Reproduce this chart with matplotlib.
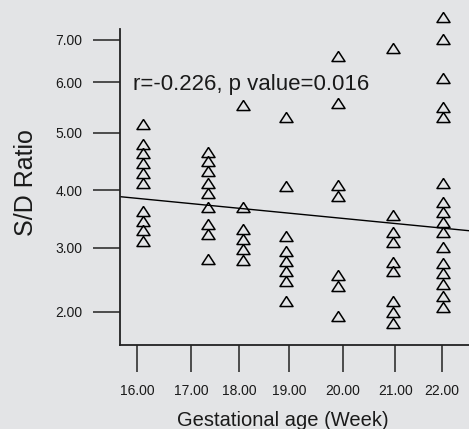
import numpy as np
import matplotlib
matplotlib.use("Agg")
import matplotlib.pyplot as plt

# gestational week of each column of points
weeks = [16.10, 17.35, 18.09, 18.93, 19.91, 20.96, 22.02]

# S/D ratio values, one list per week column
sd_ratio = [
    [5.17, 4.80, 4.64, 4.47, 4.30, 4.12, 3.64, 3.47, 3.30, 3.12],
    [4.67, 4.51, 4.34, 4.13, 3.95, 3.71, 3.41, 3.24, 2.83],
    [5.54, 3.71, 3.32, 3.15, 2.98, 2.80],
    [5.32, 4.08, 3.20, 2.95, 2.79, 2.64, 2.48, 2.16],
    [6.61, 5.59, 4.09, 3.90, 2.57, 2.40, 1.94],
    [6.80, 3.57, 3.28, 3.10, 2.78, 2.63, 2.16, 2.00, 1.82],
    [7.55, 7.02, 6.11, 5.51, 5.31, 4.12, 3.80, 3.62, 3.45, 3.28, 3.02,
     2.76, 2.60, 2.43, 2.25, 2.08],
]

# regression line end points
fit_x = [15.68, 22.57]
fit_y = [3.889, 3.296]

x_ticks = [16, 17, 18, 19, 20, 21, 22]
y_ticks = [2, 3, 4, 5, 6, 7]
stat_text = "r=-0.226, p value=0.016"

# the original axes are not evenly spaced, so map the ticks by hand
x_spacing = [137.3, 191, 239, 289.3, 343, 395.3, 442.3]
y_spacing = [0, 64, 121.4, 179, 229.4, 271.7]


def piecewise(src, dst):
    src = np.asarray(src, float)
    dst = np.asarray(dst, float)
    s0 = (dst[1] - dst[0]) / (src[1] - src[0])
    s1 = (dst[-1] - dst[-2]) / (src[-1] - src[-2])

    def f(v):
        v = np.asarray(v, float)
        out = np.interp(v, src, dst)
        out = np.where(v < src[0], dst[0] + (v - src[0]) * s0, out)
        out = np.where(v > src[-1], dst[-1] + (v - src[-1]) * s1, out)
        return out
    return f


plt.rcParams['font.family'] = ['Liberation Sans', 'DejaVu Sans']

bg = '#e3e4e6'
fig = plt.figure(figsize=(4.69, 4.29), dpi=100, facecolor=bg)
ax = fig.add_axes([120 / 469, 83.7 / 429, 349 / 469, 316.3 / 429])
ax.set_facecolor(bg)

ax.set_xscale('function', functions=(piecewise(x_ticks, x_spacing),
                                     piecewise(x_spacing, x_ticks)))
ax.set_yscale('function', functions=(piecewise(y_ticks, y_spacing),
                                     piecewise(y_spacing, y_ticks)))

# flat open triangle like the original
tri = [(0, 0.385), (-0.5, -0.385), (0.5, -0.385), (0, 0.385)]
for wk, vals in zip(weeks, sd_ratio):
    ax.plot([wk] * len(vals), vals, linestyle='none', marker=tri,
            markersize=9.4, markerfacecolor='none', markeredgecolor='black',
            markeredgewidth=1.1, clip_on=False)

ax.plot(fit_x, fit_y, color='black', linewidth=1.0)

ax.set_xlim(15.68, 22.57)
ax.set_ylim(1.475, 7.26)

ax.set_xticks(x_ticks)
ax.set_xticklabels(["%.2f" % t for t in x_ticks])
ax.set_yticks(y_ticks)
ax.set_yticklabels(["%.2f" % t for t in y_ticks])
ax.minorticks_off()

for s in ['top', 'right']:
    ax.spines[s].set_visible(False)
for s in ['left', 'bottom']:
    ax.spines[s].set_linewidth(1.3)
    ax.spines[s].set_color('#222222')

ax.tick_params(axis='both', direction='out', length=19.5, width=1.1,
               colors='#222222', labelsize=10, labelcolor='#1a1a1a')
ax.tick_params(axis='y', pad=7.5)
ax.tick_params(axis='x', pad=8.5)

ax.set_xlabel("Gestational age (Week)", fontsize=14.5, color='#1a1a1a')
ax.xaxis.set_label_coords(0.467, -0.209)
ax.set_ylabel("S/D Ratio", fontsize=18, color='#1a1a1a')
ax.yaxis.set_label_coords(-0.235, 0.513)

ax.text(0.037, 0.8087, stat_text, transform=ax.transAxes, fontsize=16,
        color='#1a1a1a', va='baseline', ha='left')

fig.savefig("out.png", dpi=100, facecolor=bg)
